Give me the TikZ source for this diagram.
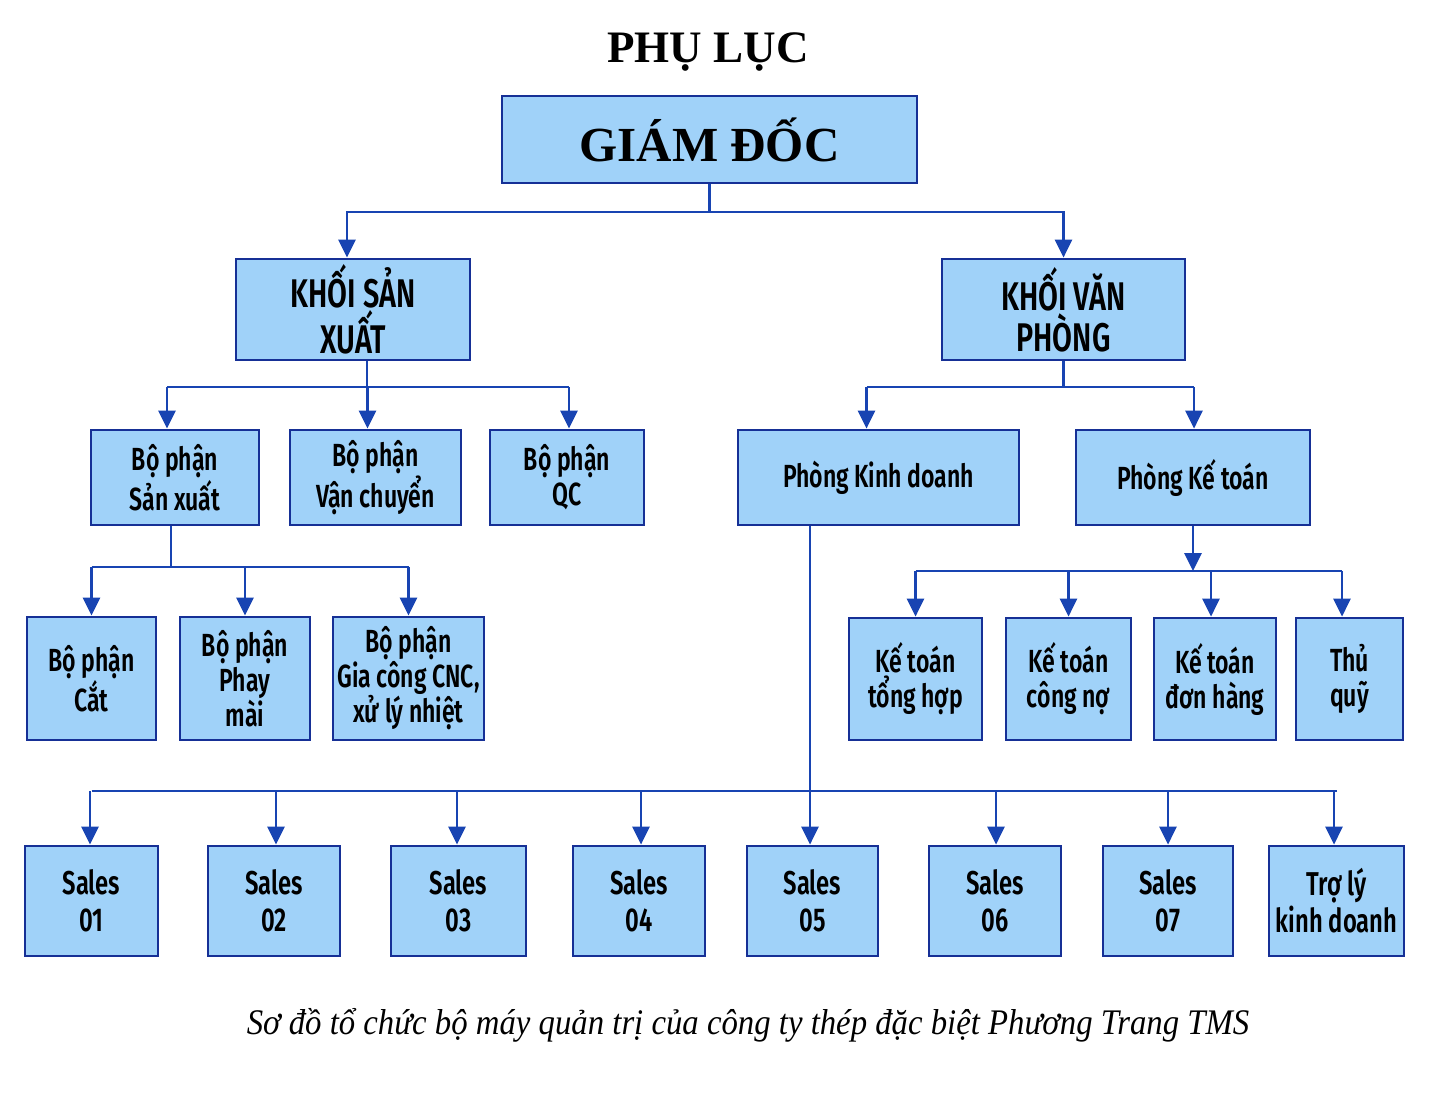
\documentclass[tikz,border=0pt]{standalone}
\usepackage{fontspec}
\setmainfont{Liberation Serif}
\newfontfamily\boxfont{Fira Sans SemiBold}[FakeStretch=0.72]
\newfontfamily\capfont{Liberation Serif}[FakeStretch=0.91]
\usetikzlibrary{arrows.meta}
\definecolor{boxfill}{RGB}{160,210,249}
\definecolor{boxdraw}{RGB}{22,48,150}
\definecolor{lncol}{RGB}{24,68,178}
\tikzset{
  box/.style={draw=boxdraw, fill=boxfill, line width=1.4pt, inner sep=2pt, align=center,
    font=\boxfont\fontsize{16}{17.5}\selectfont},
  bigbox/.style={box, font=\boxfont\fontsize{20}{20.5}\selectfont},
  salesbox/.style={box, font=\boxfont\fontsize{16.5}{18.5}\selectfont},
  ln/.style={draw=lncol, line width=1.4pt},
  arr/.style={ln, -{Triangle[width=8.5pt,length=9pt]}},
}
\newcommand\mkbox[7]{\node[#1,minimum width={(#5-#3)*0.5pt},minimum height={(#6-#4)*0.5pt}] (#2) at ({(#3+#5)/2},{(#4+#6)/2}) {#7};}
\newcommand\drop[3]{\coordinate (tmp) at ([xshift=#2]#1.north); \draw[arr] (tmp|-#3) -- (tmp);}
\begin{document}
\begin{tikzpicture}[x=0.5pt,y=-0.5pt]
\useasboundingbox[fill=white] (0,0) rectangle (1438,1094);
% title
\node[font=\bfseries\fontsize{22.5}{24}\selectfont] (title) at (708,52) {PHỤ LỤC};
% level 0
\node[draw=boxdraw, fill=boxfill, line width=1.4pt, minimum width=207.5pt, minimum height=43.5pt,
  font=\bfseries\fontsize{24.5}{27}\selectfont] (gd) at (709.5,139.5) {GIÁM ĐỐC};
% level 1
\mkbox{bigbox}{ksx}{236}{259}{470}{360}{KHỐI SẢN\\XUẤT}
\mkbox{bigbox}{kvp}{942}{259}{1185}{360}{KHỐI VĂN\\PHÒNG}
% level 2
\mkbox{box}{bsx}{91}{430}{259}{525}{Bộ phận\\Sản xuất}
\mkbox{box}{bvc}{290}{430}{461}{525}{Bộ phận\\Vận chuyển}
\mkbox{box}{bqc}{490}{430}{644}{525}{Bộ phận\\QC}
\mkbox{box}{pkd}{738}{430}{1019}{525}{Phòng Kinh doanh}
\mkbox{box}{pkt}{1076}{430}{1310}{525}{Phòng Kế toán}
% level 3
\mkbox{box}{cat}{27}{617}{156}{740}{Bộ phận\\Cắt}
\mkbox{box}{phay}{180}{617}{310}{740}{Bộ phận\\Phay\\mài}
\mkbox{box}{cnc}{333}{617}{484}{740}{Bộ phận\\Gia công CNC,\\xử lý nhiệt}
\mkbox{box}{kth}{849}{618}{982}{740}{Kế toán\\tổng hợp}
\mkbox{box}{kcn}{1006}{618}{1131}{740}{Kế toán\\công nợ}
\mkbox{box}{kdh}{1154}{618}{1276}{740}{Kế toán\\đơn hàng}
\mkbox{box}{tq}{1296}{618}{1403}{740}{Thủ\\quỹ}
% sales
\mkbox{salesbox}{s1}{25}{846}{158}{956}{Sales\\01}
\mkbox{salesbox}{s2}{208}{846}{340}{956}{Sales\\02}
\mkbox{salesbox}{s3}{391}{846}{526}{956}{Sales\\03}
\mkbox{salesbox}{s4}{573}{846}{705}{956}{Sales\\04}
\mkbox{salesbox}{s5}{747}{846}{878}{956}{Sales\\05}
\mkbox{salesbox}{s6}{929}{846}{1061}{956}{Sales\\06}
\mkbox{salesbox}{s7}{1103}{846}{1233}{956}{Sales\\07}
\mkbox{salesbox}{tl}{1269}{846}{1404}{956}{Trợ lý\\kinh doanh}
% caption
\node[font=\capfont\itshape\fontsize{18}{20}\selectfont] (cap) at (748,1025)
  {Sơ đồ tổ chức bộ máy quản trị của công ty thép đặc biệt Phương Trang TMS};
% connectors level 0 -> 1
\coordinate (j1) at (0,212);
\draw[ln] (gd.south) -- (gd.south|-j1);
\coordinate (a1) at ([xshift=-3pt]ksx.north);
\draw[arr] (gd.south|-j1) -| (a1);
\draw[arr] (gd.south|-j1) -| (kvp.north);
% ksx -> level 2
\coordinate (j2) at (0,387);
\coordinate (b0) at ([xshift=7pt]ksx.south);
\draw[ln] (b0) -- (b0|-j2);
\coordinate (b1) at ([xshift=-4pt]bsx.north);
\coordinate (b3) at ([xshift=1pt]bqc.north);
\draw[ln] (b1|-j2) -- (b3|-j2);
\drop{bsx}{-4pt}{j2}
\drop{bvc}{-4pt}{j2}
\drop{bqc}{1pt}{j2}
% kvp -> level 2
\coordinate (c1) at ([xshift=-6pt]pkd.north);
\coordinate (c2) at ([xshift=0.5pt]pkt.north);
\draw[ln] (kvp.south) -- (kvp.south|-j2);
\draw[ln] (c1|-j2) -- (c2|-j2);
\drop{pkd}{-6pt}{j2}
\drop{pkt}{0.5pt}{j2}
% bsx -> level 3
\coordinate (j3) at (0,567);
\coordinate (d0) at ([xshift=-2pt]bsx.south);
\draw[ln] (d0) -- (d0|-j3);
\draw[ln] (cat.north|-j3) -- (cnc.north|-j3);
\drop{cat}{0pt}{j3}
\drop{phay}{0pt}{j3}
\drop{cnc}{0pt}{j3}
% pkt -> ke toan
\coordinate (j4) at (0,571);
\draw[arr] (pkt.south) -- (pkt.south|-j4);
\coordinate (e1) at (kth.north);
\coordinate (e4) at ([xshift=-3.75pt]tq.north);
\draw[ln] (e1|-j4) -- (e4|-j4);
\drop{kth}{0pt}{j4}
\drop{kcn}{0pt}{j4}
\drop{kdh}{-2pt}{j4}
\drop{tq}{-3.75pt}{j4}
% pkd -> sales
\coordinate (j5) at (0,791);
\coordinate (f0) at ([xshift=-34.25pt]pkd.south);
\draw[arr] (f0) -- (f0|-s5.north);
\draw[ln] (s1.north|-j5) -- (tl.north|-j5);
\drop{s1}{-0.75pt}{j5}
\drop{s2}{1pt}{j5}
\drop{s3}{-0.75pt}{j5}
\drop{s4}{1pt}{j5}
\drop{s6}{0.5pt}{j5}
\drop{s7}{0pt}{j5}
\drop{tl}{-1.25pt}{j5}
\end{tikzpicture}
\end{document}
